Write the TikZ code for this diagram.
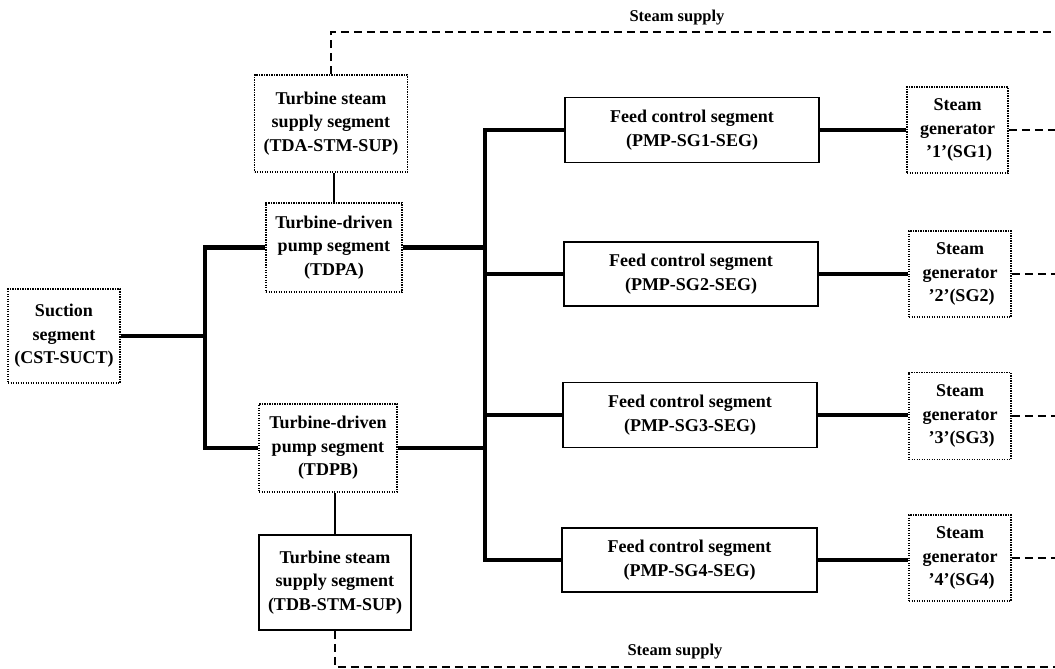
\documentclass[tikz,border=0pt]{standalone}
\usepackage{fontspec}
\setmainfont{Liberation Serif}
\usetikzlibrary{calc}
\begin{document}
\begin{tikzpicture}[x=1pt,y=-1pt,
  box/.style={draw, line width=1.6pt, inner sep=0pt, align=center,
    font=\fontsize{18}{23.5}\selectfont\bfseries},
  dotbox/.style={box, line width=1.5pt, dash pattern=on 1.4pt off 1.1pt},
  heavy/.style={line width=4.2pt},
  thinline/.style={line width=1.6pt},
  steamline/.style={line width=1.8pt, dash pattern=on 8pt off 5pt},
  lbl/.style={font=\fontsize{16.5}{19}\selectfont\bfseries, inner sep=0pt}]
\useasboundingbox (0,0) rectangle (1055,669);

% nodes
\node[dotbox, minimum width=112, minimum height=94] (suc) at (64,336) {Suction\\segment\\(CST-SUCT)};
\node[dotbox, minimum width=153, minimum height=97] (tdas) at (331,123.5) {Turbine steam\\supply segment\\(TDA-STM-SUP)};
\node[dotbox, minimum width=136, minimum height=89] (tdpa) at (334,247.5) {Turbine-driven\\pump segment\\(TDPA)};
\node[dotbox, minimum width=138, minimum height=88] (tdpb) at (328,448) {Turbine-driven\\pump segment\\(TDPB)};
\node[box, minimum width=152, minimum height=95] (tdbs) at (335,582.5) {Turbine steam\\supply segment\\(TDB-STM-SUP)};

\node[box, minimum width=254, minimum height=65] (f1) at (692,130) {Feed control segment\\(PMP-SG1-SEG)};
\node[box, minimum width=254, minimum height=64] (f2) at (691,274) {Feed control segment\\(PMP-SG2-SEG)};
\node[box, minimum width=254, minimum height=65] (f3) at (690,415) {Feed control segment\\(PMP-SG3-SEG)};
\node[box, minimum width=255, minimum height=64] (f4) at (689.5,560) {Feed control segment\\(PMP-SG4-SEG)};

\node[dotbox, minimum width=101, minimum height=86] (sg1) at (957.5,130) {Steam\\generator\\\,'1'(SG1)};
\node[dotbox, minimum width=102, minimum height=86] (sg2) at (960,274) {Steam\\generator\\\,'2'(SG2)};
\node[dotbox, minimum width=102, minimum height=87] (sg3) at (960,416) {Steam\\generator\\\,'3'(SG3)};
\node[dotbox, minimum width=102, minimum height=86] (sg4) at (960,558) {Steam\\generator\\\,'4'(SG4)};

\node[lbl] (ltop) at (677,18) {Steam supply};
\node[lbl] (lbot) at (675,652) {Steam supply};

% junction coordinates
\coordinate (jl) at (205,336);
\coordinate (jr) at (485,300);
\coordinate (tr) at (1058,32);
\coordinate (br) at (1058,667);

% heavy connectors
\draw[heavy] (suc.east) -- (suc.east -| jl);
\draw[heavy] (tdpa.west) -| (jl) |- (tdpb.west);
\draw[heavy] (tdpa.east) -- (tdpa.east -| jr);
\draw[heavy] (tdpb.east) -- (tdpb.east -| jr);
\draw[heavy] (f1.west) -| (jr) |- (f4.west);
\draw[heavy] (f2.west) -- (f2.west -| jr);
\draw[heavy] (f3.west) -- (f3.west -| jr);
\draw[heavy] (f1.east) -- (f1.east -| sg1.west);
\draw[heavy] (f2.east) -- (f2.east -| sg2.west);
\draw[heavy] (f3.east) -- (f3.east -| sg3.west);
\draw[heavy] (f4.east) -- (f4.east -| sg4.west);

% thin connectors
\draw[thinline] (tdpa.north) -- (tdpa.north |- tdas.south);
\draw[thinline] (tdbs.north) -- (tdbs.north |- tdpb.south);

% steam supply dashed lines
\draw[steamline] (tdas.north) |- (tr);
\draw[steamline] (tdbs.south) |- (br);
\draw[steamline] (sg1.east) -- (sg1.east -| tr);
\draw[steamline] (sg2.east) -- (sg2.east -| tr);
\draw[steamline] (sg3.east) -- (sg3.east -| tr);
\draw[steamline] (sg4.east) -- (sg4.east -| tr);
\end{tikzpicture}
\end{document}
